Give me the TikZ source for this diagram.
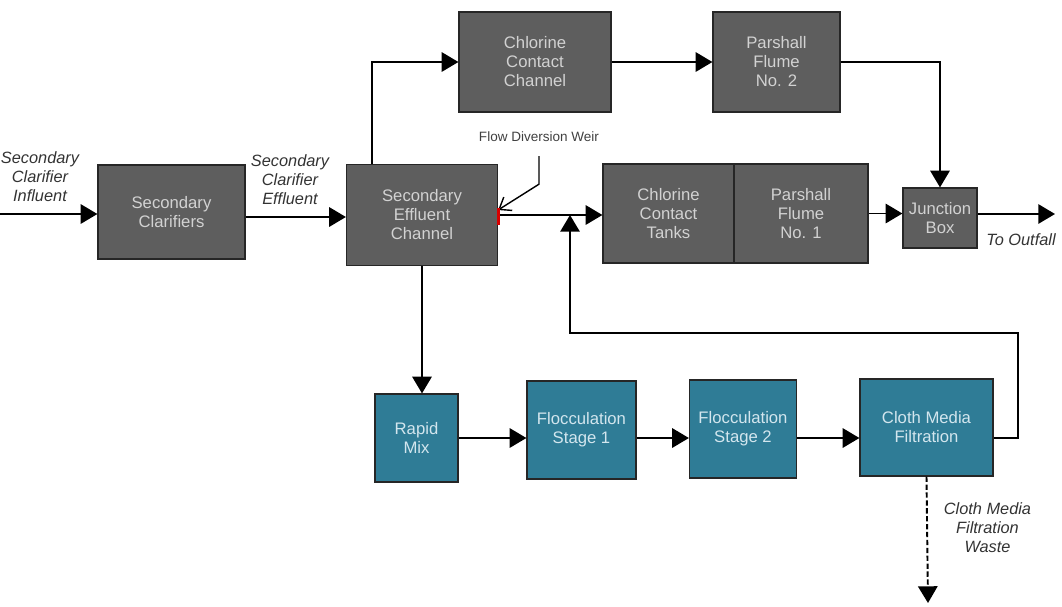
\documentclass[tikz,border=0pt]{standalone}
\usepackage{fontspec}
\setmainfont{Liberation Sans}
\usetikzlibrary{arrows.meta}
\definecolor{boxgray}{HTML}{5E5E5E}
\definecolor{boxteal}{HTML}{2F7C96}
\definecolor{graytext}{HTML}{D2D2D2}
\definecolor{tealtext}{HTML}{D3E6EE}
\tikzset{
	proc/.style={draw=black!85, line width=0.7pt, fill=boxgray, text=graytext, align=center,
		inner sep=0pt, font=\fontsize{9.5}{10.8}\selectfont},
	tert/.style={proc, fill=boxteal, text=tealtext},
	flow/.style={line width=1.1pt, -{Triangle[length=9.5pt,width=11pt]}},
	lbl/.style={align=center, text=black!80, font=\itshape\fontsize{9.3}{10.8}\selectfont}
}
\begin{document}
\begin{tikzpicture}[x=0.02cm,y=-0.02cm]
			\useasboundingbox (0,0) rectangle (1062,606);
			% secondary treatment
			\node[proc, minimum width=2.94cm, minimum height=1.88cm] (sc)  at (171.5,212) {Secondary\\Clarifiers};
			\node[proc, minimum width=3.02cm, minimum height=2.02cm] (sec) at (422,215)   {Secondary\\Effluent\\Channel};
			\node[proc, minimum width=3.04cm, minimum height=2.00cm] (ccc) at (535,62)    {Chlorine\\Contact\\Channel};
			\node[proc, minimum width=2.54cm, minimum height=2.00cm] (pf2) at (776.5,62)  {Parshall\\Flume\\No. 2};
			\node[proc, minimum width=2.62cm, minimum height=1.98cm] (cct) at (668.5,213.5) {Chlorine\\Contact\\Tanks};
			\node[proc, minimum width=2.68cm, minimum height=1.98cm] (pf1) at (801,213.5)  {Parshall\\Flume\\No. 1};
			\node[proc, minimum width=1.48cm, minimum height=1.20cm] (jb)  at (940,218)    {Junction\\Box};
			% tertiary treatment
			\node[tert, minimum width=1.66cm, minimum height=1.76cm] (rm)  at (416.5,438)  {Rapid\\Mix};
			\node[tert, minimum width=2.18cm, minimum height=1.96cm] (fs1) at (581.5,430)  {Flocculation\\Stage 1};
			\node[tert, minimum width=2.14cm, minimum height=1.96cm] (fs2) at (743,429)    {Flocculation\\Stage 2};
			\node[tert, minimum width=2.66cm, minimum height=1.94cm] (cmf) at (926.5,427.5) {Cloth Media\\Filtration};
			%
			\node[lbl] (inlbl)  at (40,177)     {Secondary\\Clarifier\\Influent};
			\node[lbl] (efflbl) at (290,180)    {Secondary\\Clarifier\\Effluent};
			\node[lbl] (outlbl) at (1021,240)   {To Outfall};
			\node[lbl] (wstlbl) at (987.5,528)  {Cloth Media\\Filtration\\Waste};
			\node[text=black!75, font=\fontsize{7.7}{9}\selectfont] (weirlbl) at (539,137) {Flow Diversion Weir};
			%
			\coordinate (in)   at (0,214);
			\coordinate (out)  at (1055,214);
			\coordinate (ret)  at (1018,333);
			\coordinate (mrg)  at (570,215);
			\coordinate (wst)  at (928,603);
			%
			\draw[flow] (in) -- (in -| sc.west);
			\draw[flow] ([yshift=-0.1cm]sc.east) -- ([yshift=-0.1cm]sc.east -| sec.west);
			\draw[flow] ([xshift=-1cm]sec.north) |- (ccc.west);
			\draw[flow] (ccc.east) -- (pf2.west);
			\draw[flow] (sec.east) -- (sec.east -| cct.west);
			\draw[flow] (sec.south) -- (sec.south |- rm.north);
			\draw[flow] (pf2.east) -| (jb.north);
			\draw[flow] (pf1.east) -- (pf1.east -| jb.west);
			\draw[flow] (jb.east |- out) -- (out);
			\def\list {rm/fs1, fs1/fs2, fs2/cmf}  % tertiary links
			\foreach \u\v in \list
			{	\draw[flow] (\u.east |- rm.east) -- (\v.west |- rm.east);
			}
			\draw[flow] (cmf.east |- rm.east) -| (ret) -| (mrg);
			\draw[flow, dash pattern=on 3pt off 1.5pt] (cmf.south) -- (wst);
			% weir
			\draw[line width=0.8pt, -{Straight Barb[length=6pt,width=9pt]}] (weirlbl.south) ++(0,8) -- ++(0,28) -- ([yshift=0.1cm]sec.east);
			\draw[red!85!black, line width=1.6pt] ([yshift=0.15cm]sec.east) -- ([yshift=-0.2cm]sec.east);
\end{tikzpicture}
\end{document}
